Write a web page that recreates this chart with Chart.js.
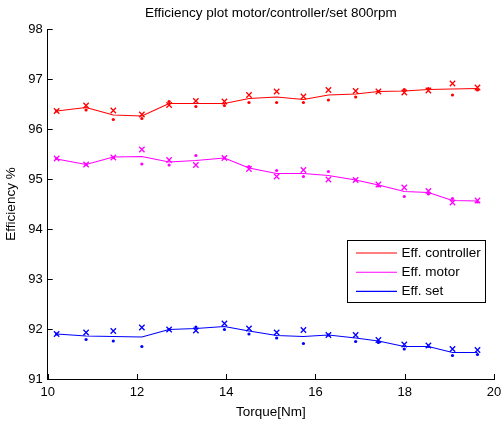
<!DOCTYPE html>
<html>
<head>
<meta charset="utf-8">
<script src="https://cdn.jsdelivr.net/npm/chart.js@4.4.1/dist/chart.umd.min.js"></script>
<style>
html,body{margin:0;padding:0;background:#fff;}
#c{display:block;}
</style>
</head>
<body>
<canvas id="c" width="504" height="423"></canvas>
<script>
// ---- data ----
const titleText = 'Efficiency plot motor/controller/set 800rpm';
const xTitle = 'Torque[Nm]';
const yTitle = 'Efficiency %';
const seriesNames = ['Eff. controller', 'Eff. motor', 'Eff. set'];
const xTicks = [10, 12, 14, 16, 18, 20];
const yTicks = [91, 92, 93, 94, 95, 96, 97, 98];

const torque = [10.20, 10.86, 11.47, 12.11, 12.72, 13.32, 13.96, 14.51, 15.13, 15.73, 16.29, 16.90, 17.41, 17.99, 18.53, 19.07, 19.63];

const ctrlLine = [96.36, 96.43, 96.28, 96.26, 96.51, 96.51, 96.51, 96.61, 96.64, 96.59, 96.68, 96.70, 96.75, 96.76, 96.79, 96.80, 96.81];
const ctrlX    = [96.36, 96.47, 96.37, 96.29, 96.48, 96.56, 96.55, 96.68, 96.75, 96.65, 96.78, 96.76, 96.75, 96.73, 96.77, 96.91, 96.83];
const ctrlDot  = [96.36, 96.38, 96.19, 96.21, 96.55, 96.45, 96.47, 96.53, 96.53, 96.53, 96.58, 96.64, 96.75, 96.79, 96.81, 96.68, 96.78];

const motLine = [95.40, 95.29, 95.44, 95.45, 95.34, 95.37, 95.42, 95.22, 95.11, 95.11, 95.07, 94.98, 94.88, 94.75, 94.73, 94.57, 94.56];
const motX    = [95.41, 95.29, 95.43, 95.59, 95.38, 95.28, 95.42, 95.20, 95.05, 95.18, 94.99, 94.98, 94.89, 94.83, 94.76, 94.53, 94.57];
const motDot  = [95.41, 95.29, 95.43, 95.30, 95.28, 95.47, 95.42, 95.25, 95.17, 95.05, 95.15, 94.98, 94.86, 94.65, 94.70, 94.61, 94.54];

const setLine = [91.90, 91.86, 91.85, 91.84, 91.99, 92.01, 92.05, 91.96, 91.87, 91.85, 91.88, 91.82, 91.76, 91.65, 91.65, 91.53, 91.53];
const setX    = [91.90, 91.93, 91.96, 92.03, 91.99, 91.97, 92.11, 92.01, 91.93, 91.98, 91.88, 91.88, 91.78, 91.69, 91.67, 91.60, 91.58];
const setDot  = [91.90, 91.79, 91.76, 91.65, 91.99, 92.04, 91.99, 91.90, 91.82, 91.71, 91.88, 91.75, 91.73, 91.60, 91.65, 91.47, 91.49];

const colors = ['#ff0000', '#ff00ff', '#0000ff'];
// ---------------------------------------

const FONT = "'Liberation Sans', Arial, Helvetica, sans-serif";
const pts = ys => torque.map((x, i) => ({x: x, y: ys[i]}));

function lineDs(label, ys, c) {
  return {label: label, data: pts(ys), showLine: true, borderColor: c, backgroundColor: c,
          borderWidth: 1.1, pointRadius: 0, pointHoverRadius: 0, tension: 0, isLegend: true, order: 2};
}
function xDs(ys, c) {
  return {label: '', data: pts(ys), showLine: false, pointStyle: 'crossRot', pointRadius: 3.8,
          pointBorderWidth: 1.3, borderColor: c, backgroundColor: c,
          pointBorderColor: c, pointBackgroundColor: c, order: 1};
}
function dotDs(ys, c) {
  return {label: '', data: pts(ys), showLine: false, pointStyle: 'circle', pointRadius: 1.6,
          pointBorderWidth: 0, borderColor: c, backgroundColor: c,
          pointBorderColor: c, pointBackgroundColor: c, order: 1};
}

const datasets = [
  lineDs(seriesNames[0], ctrlLine, colors[0]), xDs(ctrlX, colors[0]), dotDs(ctrlDot, colors[0]),
  lineDs(seriesNames[1], motLine, colors[1]),  xDs(motX, colors[1]),  dotDs(motDot, colors[1]),
  lineDs(seriesNames[2], setLine, colors[2]),  xDs(setX, colors[2]),  dotDs(setDot, colors[2])
];

const decor = {
  id: 'decor',
  afterDraw(chart) {
    const ctx = chart.ctx, a = chart.chartArea;
    const xs = chart.scales.x, ys = chart.scales.y;
    ctx.save();
    // inward tick marks
    ctx.strokeStyle = '#000'; ctx.lineWidth = 1;
    ctx.beginPath();
    xTicks.forEach(v => { const p = Math.round(xs.getPixelForValue(v)) + 0.5; ctx.moveTo(p, a.bottom); ctx.lineTo(p, a.bottom - 5); });
    yTicks.forEach(v => { const p = Math.round(ys.getPixelForValue(v)) + 0.5; ctx.moveTo(a.left, p); ctx.lineTo(a.left + 5, p); });
    ctx.stroke();
    // title
    ctx.fillStyle = '#000';
    ctx.font = '13.5px ' + FONT;
    ctx.textAlign = 'center'; ctx.textBaseline = 'middle';
    ctx.fillText(titleText, (a.left + a.right) / 2, 13);
    // legend
    const lx = 347.5, ly = 240.5, lw = 138, lh = 62;
    ctx.fillStyle = '#fff';
    ctx.fillRect(lx, ly, lw, lh);
    ctx.strokeStyle = '#000'; ctx.lineWidth = 1;
    ctx.strokeRect(lx, ly, lw, lh);
    const items = chart.data.datasets.filter(d => d.isLegend);
    ctx.textAlign = 'left';
    ctx.font = '13.5px ' + FONT;
    items.forEach((d, i) => {
      const yy = 253 + i * 19.2;
      ctx.strokeStyle = d.borderColor; ctx.lineWidth = 1.1;
      ctx.beginPath(); ctx.moveTo(356, yy); ctx.lineTo(397, yy); ctx.stroke();
      ctx.fillStyle = '#000';
      ctx.fillText(d.label, 401.5, yy);
    });
    ctx.restore();
  }
};

new Chart(document.getElementById('c'), {
  type: 'scatter',
  data: {datasets: datasets},
  options: {
    responsive: false,
    animation: false,
    events: [],
    layout: {padding: {top: 29, right: 10, left: 0, bottom: 0}},
    plugins: {legend: {display: false}, title: {display: false}, tooltip: {enabled: false}},
    scales: {
      x: {
        type: 'linear', min: 10, max: 20,
        afterBuildTicks: s => { s.ticks = xTicks.map(v => ({value: v})); },
        afterFit: s => { s.height = 44; s.paddingLeft = 0; s.paddingRight = 0; },
        grid: {display: false, drawTicks: false},
        border: {display: true, color: '#000', width: 1},
        ticks: {color: '#000', font: {family: FONT, size: 13}, padding: 6, maxRotation: 0,
                callback: v => String(v)},
        title: {display: true, text: xTitle, color: '#000', font: {family: FONT, size: 13.5}, padding: {top: 0, bottom: 3}}
      },
      y: {
        type: 'linear', min: 91, max: 98,
        afterBuildTicks: s => { s.ticks = yTicks.map(v => ({value: v})); },
        afterFit: s => { s.width = 47.7; s.paddingTop = 0; s.paddingBottom = 0; },
        grid: {display: false, drawTicks: false},
        border: {display: true, color: '#000', width: 1},
        ticks: {color: '#000', font: {family: FONT, size: 13}, padding: 5,
                callback: v => String(v)},
        title: {display: true, text: yTitle, color: '#000', font: {family: FONT, size: 13.5}, padding: {top: 3, bottom: 0}}
      }
    }
  },
  plugins: [decor]
});
</script>
</body>
</html>
